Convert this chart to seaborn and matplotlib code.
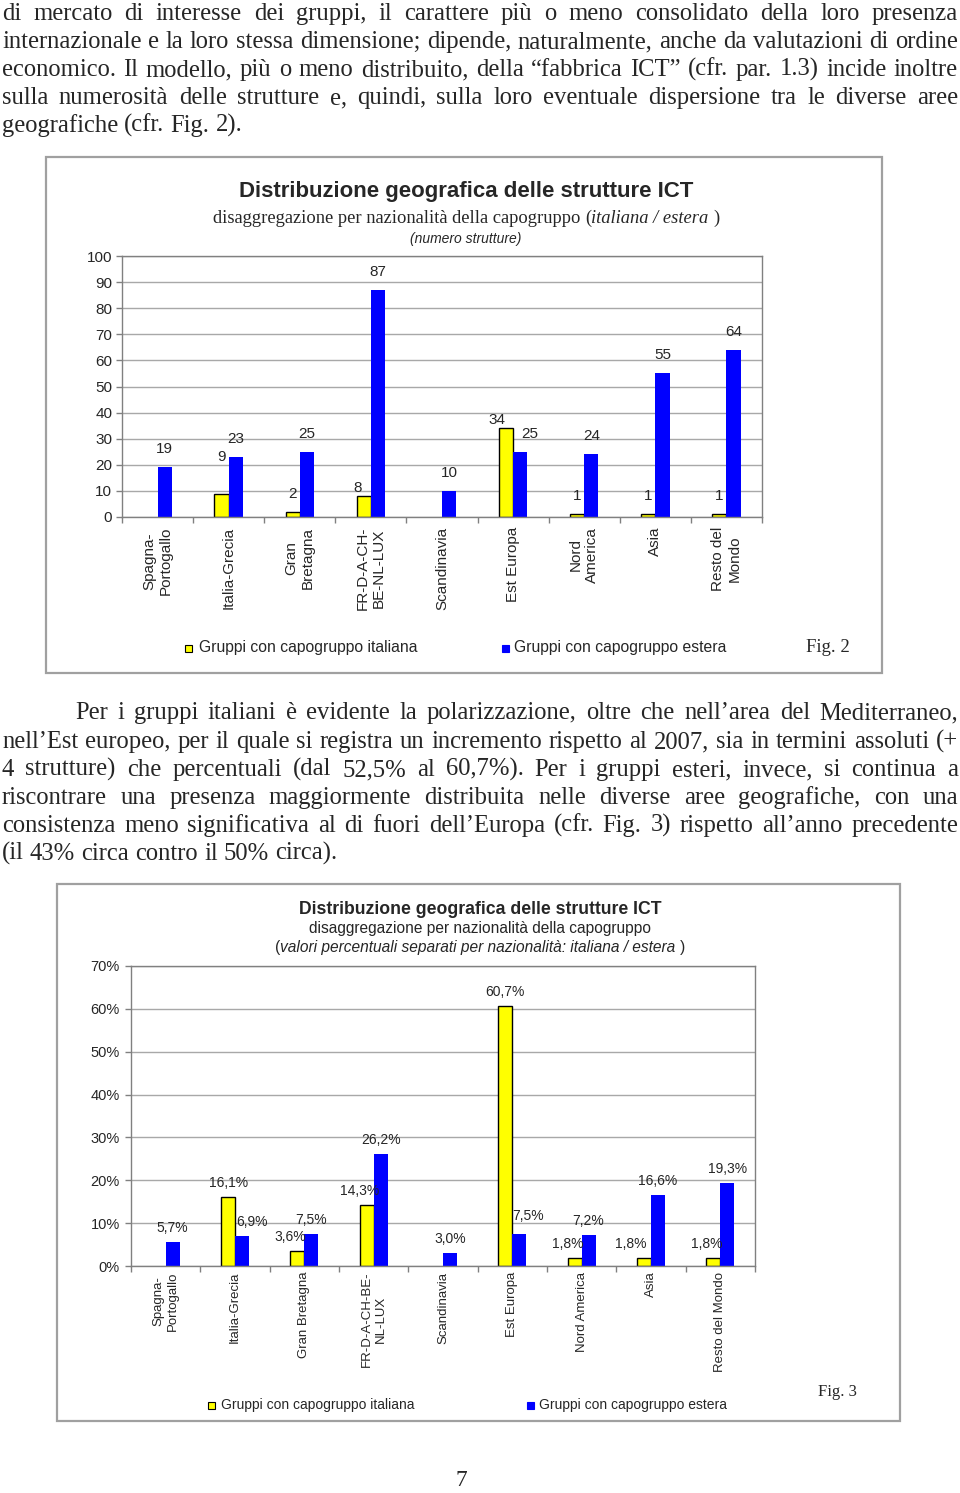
import numpy as np
import pandas as pd
import matplotlib
matplotlib.use("Agg")
import matplotlib.pyplot as plt
import seaborn as sns
from matplotlib.patches import Rectangle

# --- dati ---
aree_fig2 = ["Spagna-\nPortogallo", "Italia-Grecia", "Gran\nBretagna", "FR-D-A-CH-\nBE-NL-LUX",
             "Scandinavia", "Est Europa", "Nord\nAmerica", "Asia", "Resto del\nMondo"]
aree_fig3 = ["Spagna-\nPortogallo", "Italia-Grecia", "Gran Bretagna", "FR-D-A-CH-BE-\nNL-LUX",
             "Scandinavia", "Est Europa", "Nord America", "Asia", "Resto del Mondo"]
strutture_italiana = [0, 9, 2, 8, 0, 34, 1, 1, 1]
strutture_estera = [19, 23, 25, 87, 10, 25, 24, 55, 64]
perc_italiana = [0, 16.1, 3.6, 14.3, 0, 60.7, 1.8, 1.8, 1.8]
perc_estera = [5.7, 6.9, 7.5, 26.2, 3.0, 7.5, 7.2, 16.6, 19.3]
gruppi = ["Gruppi con capogruppo italiana", "Gruppi con capogruppo estera"]
colori = ["#ffff00", "#0000ff"]
ticks_fig2 = list(range(0, 101, 10))
ticks_fig3 = list(range(0, 71, 10))

par1 = [
    "di mercato di interesse dei gruppi, il carattere più o meno consolidato della loro presenza",
    "internazionale e la loro stessa dimensione; dipende, naturalmente, anche da valutazioni di ordine",
    "economico. Il modello, più o meno distribuito, della “fabbrica ICT” (cfr. par. 1.3) incide inoltre",
    "sulla numerosità delle strutture e, quindi, sulla loro eventuale dispersione tra le diverse aree",
    "geografiche (cfr. Fig. 2).",
]
par2 = [
    "Per i gruppi italiani è evidente la polarizzazione, oltre che nell’area del Mediterraneo,",
    "nell’Est europeo, per il quale si registra un incremento rispetto al 2007, sia in termini assoluti (+",
    "4 strutture) che percentuali (dal 52,5% al 60,7%). Per i gruppi esteri, invece, si continua a",
    "riscontrare una presenza maggiormente distribuita nelle diverse aree geografiche, con una",
    "consistenza  meno significativa al di fuori dell’Europa (cfr. Fig. 3) rispetto all’anno precedente",
    "(il 43% circa contro il  50% circa).",
]

sns.set_style("white")
plt.rcParams["font.family"] = ["Liberation Sans", "DejaVu Sans"]
SANS = ["Liberation Sans", "DejaVu Sans"]
SERIF = ["Liberation Serif", "DejaVu Serif"]
GRIGIO = "#808080"

W, H = 960, 1493
fig = plt.figure(figsize=(W / 100, H / 100), dpi=100)
renderer = fig.canvas.get_renderer()


def fx(x):
    return x / W


def fy(y):
    return 1 - y / H


def width_px(s, **kw):
    t = fig.text(0, 0, s, **kw)
    w = t.get_window_extent(renderer).width
    t.remove()
    return w


def space_px(**kw):
    return width_px("a a", **kw) - width_px("aa", **kw)


# --- testo giustificato ---
def paragrafo(lines, baselines, size, indent=0, x0=2, x1=958):
    kw = dict(fontsize=size, family=SERIF)
    sp = space_px(**kw)
    for i, (line, yb) in enumerate(zip(lines, baselines)):
        words = line.split()
        ws = [width_px(w, **kw) for w in words]
        start = x0 + (indent if i == 0 else 0)
        if i == len(lines) - 1:
            gap = sp
        else:
            gap = (x1 - start - sum(ws)) / (len(words) - 1)
        x = start
        for w, wd in zip(words, ws):
            fig.text(fx(x), fy(yb), w, ha="left", va="baseline", **kw)
            x += wd + gap


def natural(lines, size, indent=0):
    kw = dict(fontsize=size, family=SERIF)
    sp = space_px(**kw)
    out = []
    for i, line in enumerate(lines[:-1]):
        words = line.split()
        nat = sum(width_px(w, **kw) for w in words) + sp * (len(words) - 1)
        out.append((956 - (indent if i == 0 else 0)) / nat)
    return out


fit = min(natural(par1, 10) + natural(par2, 10, indent=73))
body = 10 * fit * 0.995

paragrafo(par1, [20, 48, 76, 104, 132], body)
paragrafo(par2, [719, 748, 776, 804, 832, 860], body, indent=73)
fig.text(fx(461), fy(1486), "7", ha="center", va="baseline", fontsize=body * 0.95, family=SERIF)


def riga_mista(xc, y, parti, size, family):
    # parti: (testo, stile, spazio dopo)
    sp = space_px(fontsize=size, family=family)
    ws = [width_px(t, fontsize=size, family=family, style=st) for t, st, _ in parti]
    tot = sum(ws) + sp * sum(1 for p in parti[:-1] if p[2])
    x = xc - tot / 2
    for (t, st, s), w in zip(parti, ws):
        fig.text(fx(x), fy(y), t, fontsize=size, family=family, style=st, ha="left", va="baseline")
        x += w + (sp if s else 0)


def axes_px(left, top, right, bottom):
    return fig.add_axes([fx(left), fy(bottom), (right - left) / W, (bottom - top) / H])


def grafico(ax, aree, ita, est, ticks, fmt_tick, fmt_lab, lab_size, dy, dx_ita, nudge):
    df = pd.DataFrame({
        "area": aree * 2,
        "gruppo": [gruppi[0]] * len(aree) + [gruppi[1]] * len(aree),
        "valore": ita + est,
    })
    sns.barplot(data=df, x="area", y="valore", hue="gruppo", order=aree, hue_order=gruppi,
                palette=colori, width=0.4, saturation=1, errorbar=None, legend=False,
                linewidth=0, ax=ax)
    ax.set_ylim(0, ticks[-1])
    ax.set_xlim(-0.5, len(aree) - 0.5)
    ax.set_yticks(ticks)
    ax.set_yticklabels([fmt_tick(t) for t in ticks])
    ax.set_xticks(range(len(aree)))
    ax.set_xticklabels(aree, rotation=90, ha="center", va="top")
    ax.set_xticks(np.arange(-0.5, len(aree), 1), minor=True)
    ax.set_xlabel("")
    ax.set_ylabel("")
    ax.yaxis.grid(True, color="#a8a8a8", lw=1)
    ax.set_axisbelow(True)
    for s in ax.spines.values():
        s.set_color(GRIGIO)
        s.set_linewidth(1)
        s.set_visible(True)
    ax.tick_params(axis="y", left=True, length=4, width=1, color=GRIGIO)
    ax.tick_params(axis="x", which="major", length=0)
    ax.tick_params(axis="x", which="minor", bottom=True, length=4, width=1, color=GRIGIO)

    for k, (cont, vals) in enumerate(zip(ax.containers, [ita, est])):
        for i, (bar, v) in enumerate(zip(cont.patches, vals)):
            if k == 0 and v > 0:
                bar.set_edgecolor("black")
                bar.set_linewidth(1)
            if v == 0:
                continue
            cx = bar.get_x() + bar.get_width() / 2
            ddx, ddy = nudge.get((k, i), (dx_ita if k == 0 else 0, 0))
            ax.annotate(fmt_lab(v), (cx, bar.get_height()), xytext=(ddx, dy + ddy),
                        textcoords="offset pixels", ha="center", va="center",
                        fontsize=lab_size, family=SANS, annotation_clip=False)


def legenda(y, xs, size, sq):
    for (xq, xt), nome, col, k in zip(xs, gruppi, colori, range(2)):
        fig.add_artist(Rectangle((fx(xq), fy(y + sq / 2)), sq / W, sq / H, transform=fig.transFigure,
                                 facecolor=col, edgecolor="black" if k == 0 else col, lw=0.8))
        fig.text(fx(xt), fy(y), nome, ha="left", va="center", fontsize=size, family=SANS)


def cornice(l, t, r, b):
    fig.add_artist(Rectangle((fx(l), fy(b)), (r - l) / W, (b - t) / H, transform=fig.transFigure,
                             fill=False, edgecolor="#a0a0a0", lw=1.6))


# --- Fig. 2 ---
cornice(46, 157, 882, 673)
fig.text(fx(466), fy(191), "Distribuzione geografica delle strutture ICT", ha="center", va="center",
         fontsize=16, fontweight="bold", family=SANS)
riga_mista(466, 223, [("disaggregazione per nazionalità della capogruppo", "normal", True),
                      ("(", "normal", False), ("italiana / estera", "italic", True),
                      (")", "normal", False)], 13.3, SERIF)
fig.text(fx(466), fy(239), "(numero strutture)", ha="center", va="center", fontsize=10,
         style="italic", family=SANS)

ax1 = axes_px(122, 256, 762, 517)
nudge1 = {(0, 1): (0, 19), (0, 3): (-6, -10), (0, 5): (-9, -10), (1, 5): (10, 0)}
grafico(ax1, aree_fig2, strutture_italiana, strutture_estera, ticks_fig2,
        lambda t: f"{t}", lambda v: f"{v:g}", 11, 18, 0, nudge1)
ax1.tick_params(axis="y", labelsize=11, pad=3)
ax1.tick_params(axis="x", labelsize=11, pad=7)
legenda(648, [(185, 199), (502, 514)], 11.3, 7)
fig.text(fx(806), fy(648), "Fig. 2", ha="left", va="center", fontsize=13.5, family=SERIF)

# --- Fig. 3 ---
cornice(57, 884, 900, 1421)
fig.text(fx(480), fy(909), "Distribuzione geografica delle strutture ICT", ha="center", va="center",
         fontsize=12.7, fontweight="bold", family=SANS)
fig.text(fx(480), fy(928), "disaggregazione per nazionalità della capogruppo", ha="center",
         va="center", fontsize=11.2, family=SANS)
riga_mista(480, 952, [("(", "normal", False),
                      ("valori percentuali separati per nazionalità: italiana / estera", "italic", True),
                      (")", "normal", False)], 11.2, SANS)

ax2 = axes_px(131, 966, 755, 1266)
nudge2 = {(0, 1): (0, 0), (0, 5): (0, 0), (0, 7): (-13, 0), (1, 1): (10, 0), (1, 5): (9, 4)}
grafico(ax2, aree_fig3, perc_italiana, perc_estera, ticks_fig3,
        lambda t: f"{t}%", lambda v: f"{v:.1f}".replace(".", ",") + "%", 10, 14, -7, nudge2)
ax2.tick_params(axis="y", labelsize=10.5, pad=4)
ax2.tick_params(axis="x", labelsize=9.5, pad=4)
legenda(1405, [(208, 221), (527, 539)], 10, 7)
fig.text(fx(818), fy(1392), "Fig. 3", ha="left", va="center", fontsize=12, family=SERIF)

fig.savefig("out.png", dpi=100)
